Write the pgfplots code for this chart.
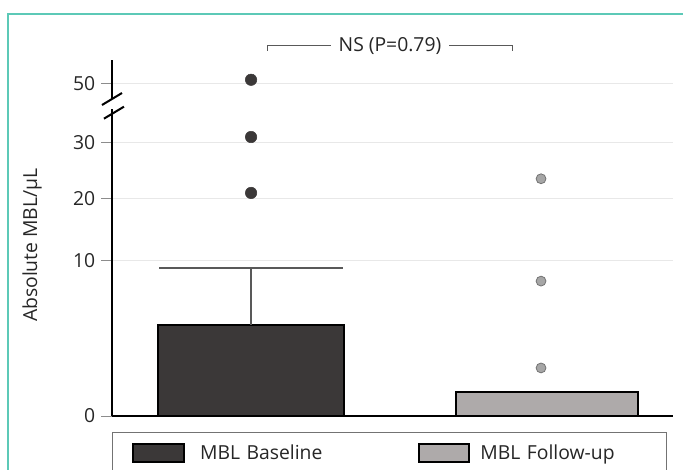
\documentclass[border=0pt]{standalone}
\usepackage{pgfplots}
\pgfplotsset{compat=1.18}
\usepackage{fontspec}
\setmainfont{Open Sans}
\definecolor{darkbar}{HTML}{3B3838}
\definecolor{lightbar}{HTML}{AEAAAA}
\definecolor{framecol}{HTML}{5CC9B7}
\definecolor{txt}{HTML}{262626}
\pgfplotsset{rectlegend/.style={legend image code/.code={\draw[##1] (0pt,-6.75pt) rectangle (38pt,6.75pt);}}}
\begin{document}
\begin{tikzpicture}[font=\fontsize{14.5}{17}\selectfont]
\begin{axis}[
  at={(0,0)}, anchor=south west,
  scale only axis, width=420.75pt, height=267pt,
  xmin=-0.47, xmax=1.426, ymin=0, ymax=58.1,
  % segmented (broken) value axis: 0-10, 10-20, 20-30, 30-50
  y coord trafo/.code={\pgfmathparse{(#1<=10)*15.5*#1 + and(#1>10,#1<=20)*(155+6.2*(#1-10)) + and(#1>20,#1<=30)*(217+5.6*(#1-20)) + (#1>30)*(273+2.95*(#1-30))}},
  axis x line*=bottom, axis y line*=left,
  axis line style={line width=1.5pt, -, black},
  xtick=\empty,
  ytick={0,10,20,30,50}, yticklabels={0,10,20,30,50},
  /pgf/number format/assume math mode=true,
  yticklabel style={text=txt, xshift=-1pt},
  ymajorgrids, grid style={black!9, line width=0.75pt},
  tick style={black!45, line width=0.75pt}, major tick length=8pt, tick align=outside,
  ylabel={Absolute MBL/µL},
  ylabel style={at={(axis description cs:-0.1426,0.48)}, anchor=center, rotate=0, text=txt},
  clip=false,
  legend columns=2,
  legend style={at={(axis description cs:0,-0.045)}, anchor=north west,
    draw=black!55, line width=0.75pt, inner xsep=15pt, inner ysep=7pt,
    text=txt, font=\fontsize{14.5}{17}\selectfont},
]
\addplot[ybar, bar shift=0pt, bar width=140pt, fill=darkbar, draw=black, line width=1.5pt, rectlegend]
  coordinates {(0,5.87)};
\addlegendentry[text width=152pt, inner xsep=11.25pt, align=left]{MBL Baseline}
\addplot[ybar, bar shift=0pt, bar width=137pt, fill=lightbar, draw=black, line width=1.5pt, rectlegend]
  coordinates {(1,1.55)};
\addlegendentry[text width=117pt, inner xsep=7.5pt, align=left]{MBL Follow-up}
% error bar of baseline
\addplot[forget plot, black!65, line width=0.9pt] coordinates {(0,5.87) (0,9.55)};
\addplot[forget plot, black!65, line width=0.9pt] coordinates {(-0.31,9.55) (0.31,9.55)};
% outliers
\addplot[forget plot, only marks, mark=*, mark size=4.3pt, mark options={fill=darkbar, draw=darkbar}]
  coordinates {(0,21.07) (0,32.0) (0,51.4)};
\addplot[forget plot, only marks, mark=*, mark size=3.7pt, mark options={fill=black!35, draw=black!55, line width=0.6pt}]
  coordinates {(0.98,3.1) (0.98,8.7) (0.98,23.6)};
\end{axis}
\begin{scope}[x=1pt, y=1pt]
% axis break marks
\fill[white] (-2.5,230) rectangle (2.5,237.5);
\draw[line width=1.5pt] (-7.5,233.25) -- (7.5,242.25);
\draw[line width=1.5pt] (-6,223) -- (9,232);
% significance bracket
\draw[black!65, line width=0.75pt] (117,273.75) -- (117,277.5) -- (300,277.5) -- (300,273.75);
\node[fill=white, inner xsep=6pt, text=txt] at (208.5,277.5) {NS (P=0.79)};
% frame
\draw[framecol, line width=1.5pt] (-78,-50) -- (-78,301.5) -- (440,301.5);
\end{scope}
\pgfresetboundingbox
\path[use as bounding box] (-84pt,-39.75pt) rectangle (428.25pt,312pt);
\end{tikzpicture}
\end{document}
